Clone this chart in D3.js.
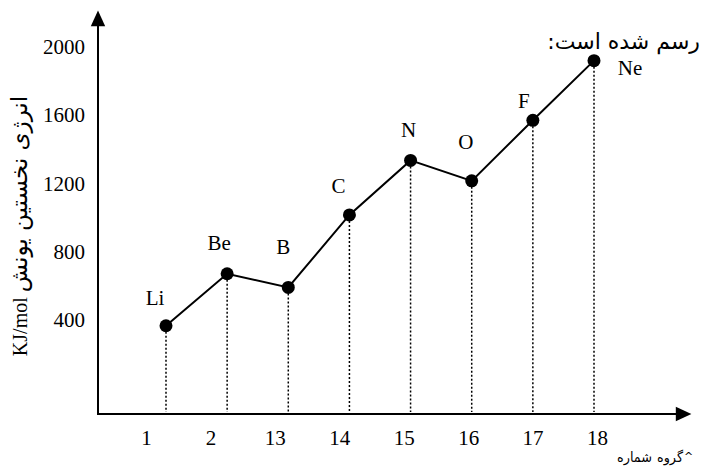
<!DOCTYPE html>
<html>
<head>
<meta charset="utf-8">
<script src="https://cdn.jsdelivr.net/npm/d3@7"></script>
<style>
  body { margin: 0; background: white; }
  svg { display: block; }
</style>
</head>
<body>
<div id="container"></div>
<script>
/* CONSTANTS AND GLOBALS */
const width = 701;
const height = 467;
const serif = "'Liberation Serif', 'Times New Roman', serif";
const persian = "'DejaVu Sans', sans-serif";

/* DATA */
const groups = ["1", "2", "13", "14", "15", "16", "17", "18"];
const elements = ["Li", "Be", "B", "C", "N", "O", "F", "Ne"];
const energies = [365, 670, 590, 1015, 1335, 1215, 1570, 1920];
const yTicks = [400, 800, 1200, 1600, 2000];

const data = elements.map((e, i) => ({ element: e, group: groups[i], energy: energies[i] }));

// where each element label sits relative to its dot
const labelOffset = {
  Li: [-11, -28], Be: [-8, -31], B: [-5, -40], C: [-11, -29],
  N: [-2, -30], O: [-6, -39], F: [-9, -19], Ne: [36, 7]
};

const originX = 98;
const originY = 414;

const svg = d3.select("#container")
  .append("svg")
  .attr("width", width)
  .attr("height", height)
  .style("background-color", "white");

/* SCALES */
const xDot = d3.scalePoint()
  .domain(elements)
  .range([166, 594]);

const xLabel = d3.scalePoint()
  .domain(groups)
  .range([146, 597]);

const yScale = d3.scaleLinear()
  .domain([0, 2000])
  .range([388, 47]);

/* AXES */
const arrow = d3.symbol().type(d3.symbolTriangle).size(90);

svg.append("line")
  .attr("x1", originX).attr("y1", originY)
  .attr("x2", originX).attr("y2", 24)
  .attr("stroke", "black")
  .attr("stroke-width", 2);

svg.append("path")
  .attr("d", arrow())
  .attr("transform", `translate(${originX},21) scale(1,1.25)`)
  .attr("fill", "black");

svg.append("line")
  .attr("x1", originX - 1).attr("y1", originY)
  .attr("x2", 678).attr("y2", originY)
  .attr("stroke", "black")
  .attr("stroke-width", 2);

svg.append("path")
  .attr("d", arrow())
  .attr("transform", `translate(681,${originY}) rotate(90) scale(1,1.25)`)
  .attr("fill", "black");

const yAxis = svg.append("g")
  .attr("transform", `translate(${originX},0)`)
  .call(d3.axisLeft(yScale).tickValues(yTicks).tickSize(0).tickPadding(13).tickFormat(d3.format("d")));
yAxis.select(".domain").remove();
yAxis.selectAll("text")
  .attr("font-family", serif)
  .attr("font-size", 21)
  .attr("fill", "black");

const xAxis = svg.append("g")
  .attr("transform", `translate(0,${originY})`)
  .call(d3.axisBottom(xLabel).tickSize(0).tickPadding(16));
xAxis.select(".domain").remove();
xAxis.selectAll("text")
  .attr("font-family", serif)
  .attr("font-size", 21)
  .attr("fill", "black");

/* DROP LINES */
svg.selectAll(".drop")
  .data(data)
  .join("line")
  .attr("class", "drop")
  .attr("x1", d => xDot(d.element))
  .attr("x2", d => xDot(d.element))
  .attr("y1", d => yScale(d.energy) + 6)
  .attr("y2", originY - 2)
  .attr("stroke", "black")
  .attr("stroke-width", 1.5)
  .attr("stroke-dasharray", "2,2");

/* LINE + DOTS */
const line = d3.line()
  .x(d => xDot(d.element))
  .y(d => yScale(d.energy));

svg.append("path")
  .datum(data)
  .attr("d", line)
  .attr("fill", "none")
  .attr("stroke", "black")
  .attr("stroke-width", 2);

svg.selectAll(".dot")
  .data(data)
  .join("circle")
  .attr("class", "dot")
  .attr("cx", d => xDot(d.element))
  .attr("cy", d => yScale(d.energy))
  .attr("r", 6.5)
  .attr("fill", "black");

svg.selectAll(".elabel")
  .data(data)
  .join("text")
  .attr("class", "elabel")
  .attr("x", d => xDot(d.element) + labelOffset[d.element][0])
  .attr("y", d => yScale(d.energy) + labelOffset[d.element][1])
  .attr("text-anchor", "middle")
  .attr("dominant-baseline", "central")
  .attr("font-family", serif)
  .attr("font-size", 21)
  .text(d => d.element);

/* TITLES */
const yTitle = svg.append("text")
  .attr("transform", "translate(27,226) rotate(-90)")
  .attr("text-anchor", "middle")
  .attr("font-size", 20);
yTitle.append("tspan").attr("font-family", serif).text("KJ/mol ");
yTitle.append("tspan").attr("font-family", persian).attr("font-size", 23).text("انرژی نخستین یونش");

svg.append("text")
  .attr("x", 700)
  .attr("y", 49)
  .attr("direction", "rtl")
  .attr("text-anchor", "start")
  .attr("font-family", persian)
  .attr("font-size", 22)
  .text("رسم شده است:");

// x title: words laid out left-to-right as in the original
const xTitle = svg.append("g")
  .attr("font-family", persian)
  .attr("font-size", 14);
xTitle.append("text")
  .attr("x", 617).attr("y", 462)
  .attr("textLength", 35).attr("lengthAdjust", "spacingAndGlyphs")
  .text("شماره");
xTitle.append("text")
  .attr("x", 657).attr("y", 462)
  .attr("textLength", 26).attr("lengthAdjust", "spacingAndGlyphs")
  .text("گروه");
xTitle.append("text").attr("x", 684).attr("y", 460).attr("font-size", 11).text("^");
</script>
</body>
</html>
